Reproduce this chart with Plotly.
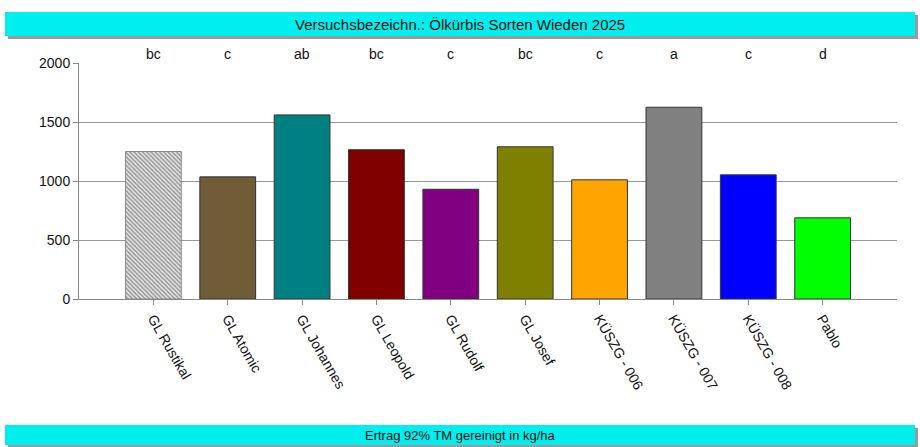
import plotly.graph_objects as go

categories = ["GL Rustikal", "GL Atomic", "GL Johannes", "GL Leopold", "GL Rudolf",
              "GL Josef", "KÜSZG - 006", "KÜSZG - 007", "KÜSZG - 008", "Pablo"]
values = [1250, 1035, 1560, 1265, 930, 1290, 1010, 1625, 1052, 688]
letters = ["bc", "c", "ab", "bc", "c", "bc", "c", "a", "c", "d"]
colors = ["#e8e8e8", "#705C37", "#008080", "#800000", "#800080",
          "#808000", "#FFA500", "#808080", "#0000FF", "#00FF00"]
title_text = "Versuchsbezeichn.: Ölkürbis Sorten Wieden 2025"
footer_text = "Ertrag 92% TM gereinigt in kg/ha"

W, H = 920, 447
L, R, T, B = 79, 897, 63, 299

def px(x):
    return (x - L) / (R - L)

def py(y):
    return (B - y) / (B - T)

fig = go.Figure(go.Bar(
    x=categories, y=values, width=0.75,
    marker=dict(color=colors, line=dict(color=["#888888"] + ["#333333"] * 9, width=1),
                pattern=dict(shape=["\\"] + [""] * 9,
                             fgcolor="#8c8c8c", bgcolor="#ececec", size=3, solidity=0.5)),
    showlegend=False, hoverinfo="x+y",
))

font = "Liberation Sans, Arial, sans-serif"

shapes = []
for (y0, y1) in [(12, 36), (425, 445)]:
    shapes.append(dict(type="rect", xref="paper", yref="paper",
                       x0=px(8), x1=px(918), y0=py(y1 + 3), y1=py(y0 + 3),
                       fillcolor="#9a9a9a", line=dict(width=0), layer="below"))
    shapes.append(dict(type="rect", xref="paper", yref="paper",
                       x0=px(5), x1=px(915), y0=py(y1), y1=py(y0),
                       fillcolor="#00EEEE", line=dict(width=0), layer="below"))

annotations = [
    dict(text=title_text, xref="paper", yref="paper", x=px(460), y=py(24),
         xanchor="center", yanchor="middle", showarrow=False,
         font=dict(family=font, size=15, color="#111111")),
    dict(text=footer_text, xref="paper", yref="paper", x=px(460), y=py(435),
         xanchor="center", yanchor="middle", showarrow=False,
         font=dict(family=font, size=13, color="#111111")),
]
for c, l in zip(categories, letters):
    annotations.append(dict(text=l, x=c, xref="x", yref="paper", y=py(54),
                            xanchor="center", yanchor="middle", showarrow=False,
                            font=dict(family=font, size=14, color="#111111")))

fig.update_layout(
    width=W, height=H,
    margin=dict(l=L, r=W - R, t=T, b=H - B, autoexpand=False),
    paper_bgcolor="white", plot_bgcolor="white",
    font=dict(family=font, size=14, color="#111111"),
    shapes=shapes, annotations=annotations,
)
fig.update_xaxes(
    type="category", range=[-1, 10], showgrid=False,
    showline=True, linecolor="#888888", linewidth=1,
    ticks="outside", ticklen=5, tickcolor="#888888",
    tickangle=60, tickfont=dict(family=font, size=14, color="#111111"),
)
fig.update_yaxes(
    range=[0, 2000], dtick=500, showgrid=True, gridcolor="#999999", gridwidth=1,
    showline=True, linecolor="#888888", linewidth=1,
    ticks="outside", ticklen=5, tickcolor="#888888",
    tickfont=dict(family=font, size=14, color="#111111"), zeroline=False,
)

fig.write_html("out.html", config={"displayModeBar": False},
               post_script="document.body.style.margin='0';document.body.style.overflow='hidden';")
